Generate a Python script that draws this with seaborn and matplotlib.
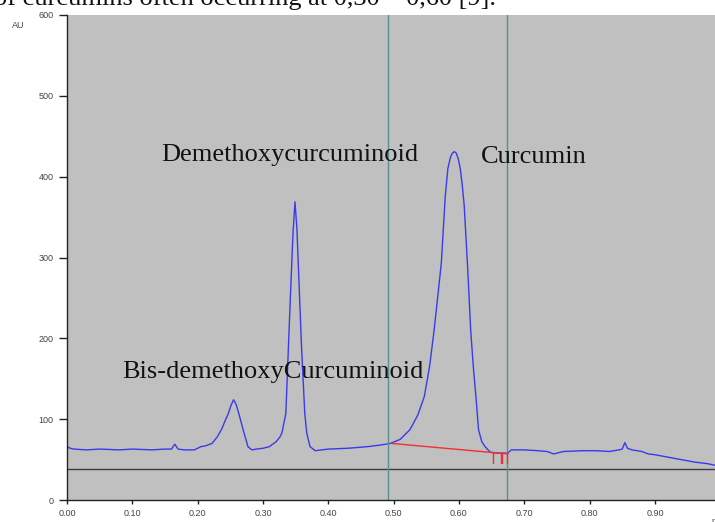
import pandas as pd
import numpy as np
import matplotlib
matplotlib.use("Agg")
import matplotlib.pyplot as plt
import seaborn as sns

# chromatogram trace (retention time, AU)
time = [0.000, 0.005, 0.010, 0.030, 0.050, 0.080, 0.100, 0.130, 0.150, 0.160,
        0.165, 0.170, 0.180, 0.195, 0.205, 0.212, 0.222, 0.230, 0.237, 0.242,
        0.247, 0.251, 0.255, 0.259, 0.263, 0.267, 0.271, 0.277, 0.283, 0.290,
        0.300, 0.310, 0.313, 0.320, 0.326, 0.329, 0.332, 0.335, 0.339, 0.343,
        0.346, 0.349, 0.352, 0.355, 0.359, 0.364, 0.367, 0.372, 0.380, 0.400,
        0.430, 0.460, 0.480, 0.495, 0.510, 0.525, 0.537, 0.547, 0.555, 0.562,
        0.568, 0.573, 0.579, 0.583, 0.587, 0.590, 0.593, 0.596, 0.599, 0.602,
        0.605, 0.608, 0.613, 0.618, 0.622, 0.626, 0.630, 0.635, 0.640, 0.648,
        0.660, 0.675, 0.680, 0.700, 0.720, 0.735, 0.745, 0.760, 0.790, 0.810,
        0.830, 0.845, 0.850, 0.854, 0.858, 0.865, 0.880, 0.890, 0.900, 0.920,
        0.940, 0.960, 0.980, 0.992]
signal = [66, 64, 63, 62, 63, 62, 63, 62, 63, 63,
          69, 63, 62, 62, 66, 67, 70, 78, 88, 98,
          107, 117, 124, 118, 107, 95, 83, 66, 62, 63,
          64, 66, 68, 72, 78, 83, 95, 107, 190, 272,
          330, 369, 335, 272, 190, 107, 83, 66, 61, 63,
          64, 66, 68, 70, 75, 87, 105, 128, 165, 210,
          255, 293, 375, 410, 424, 429, 431, 429, 422, 410,
          390, 365, 293, 210, 165, 128, 87, 72, 66, 59,
          58, 58, 62, 62, 61, 60, 57, 60, 61, 61,
          60, 62, 63, 71, 64, 62, 60, 57, 56, 53,
          50, 47, 45, 43]

# baseline drawn under the curcumin peak
red_x = [0.497, 0.675]
red_y = [70, 57]
red_ticks = [0.652, 0.664, 0.666, 0.674]

cursor_x = [0.4916, 0.6738]
floor_level = 38

yticks = [0, 100, 200, 300, 400, 500, 600]
xticks = [0.00, 0.10, 0.20, 0.30, 0.40, 0.50, 0.60, 0.70, 0.80, 0.90]

peaks = [("Demethoxycurcuminoid", 0.3415, 427),
         ("Curcumin", 0.714, 424),
         ("Bis-demethoxyCurcuminoid", 0.315, 158)]

sns.set_style("ticks")
plt.rcParams["font.family"] = ["Liberation Sans", "DejaVu Sans"]

df = pd.DataFrame({"time": time, "signal": signal})

fig = plt.figure(figsize=(7.15, 5.22), dpi=100)
ax = fig.add_axes([67 / 715, 22 / 522, 648 / 715, 485 / 522])
ax.set_facecolor("#c0c0c0")

sns.lineplot(data=df, x="time", y="signal", ax=ax, color="#3a3aec", linewidth=1.0)

ax.axhline(floor_level, color="#3c3c3c", linewidth=1.0)
for cx in cursor_x:
    ax.axvline(cx, color="#5b8f8f", linewidth=1.0)

ax.plot(red_x, red_y, color="#f03030", linewidth=1.0)
for rx in red_ticks:
    ax.plot([rx, rx], [46, 58], color="#f03030", linewidth=1.0)

for label, px, py in peaks:
    ax.text(px, py, label, ha="center", va="center", fontsize=19,
            family=["Liberation Serif", "DejaVu Serif"], color="#111111")

ax.set_xlim(0, 0.992)
ax.set_ylim(0, 600)
ax.set_xticks(xticks)
ax.set_xticklabels([f"{t:.2f}" for t in xticks])
ax.set_yticks(yticks)
ax.tick_params(axis="both", labelsize=6.5, colors="#222222", labelcolor="#444444")
ax.tick_params(axis="y", length=6, width=1)
ax.tick_params(axis="x", length=3, width=1)
ax.set_xlabel("")
ax.set_ylabel("")
for side in ["top", "right"]:
    ax.spines[side].set_visible(False)
for side in ["left", "bottom"]:
    ax.spines[side].set_color("#222222")
    ax.spines[side].set_linewidth(1.0)

fig.text(18 / 715, 1 - 25 / 522, "AU", fontsize=6.5, color="#444444", ha="center", va="center")
fig.text(711 / 715, 1 - 521 / 522, "min", fontsize=6.5, color="#444444", ha="left", va="center")
fig.text(-6 / 715, 1 - 5 / 522, "of curcumins often occurring at 0,30 \u2013 0,60 [9].",
         fontsize=19, family=["Liberation Serif", "DejaVu Serif"], color="#111111",
         ha="left", va="baseline")

fig.savefig("out.png", dpi=100)
